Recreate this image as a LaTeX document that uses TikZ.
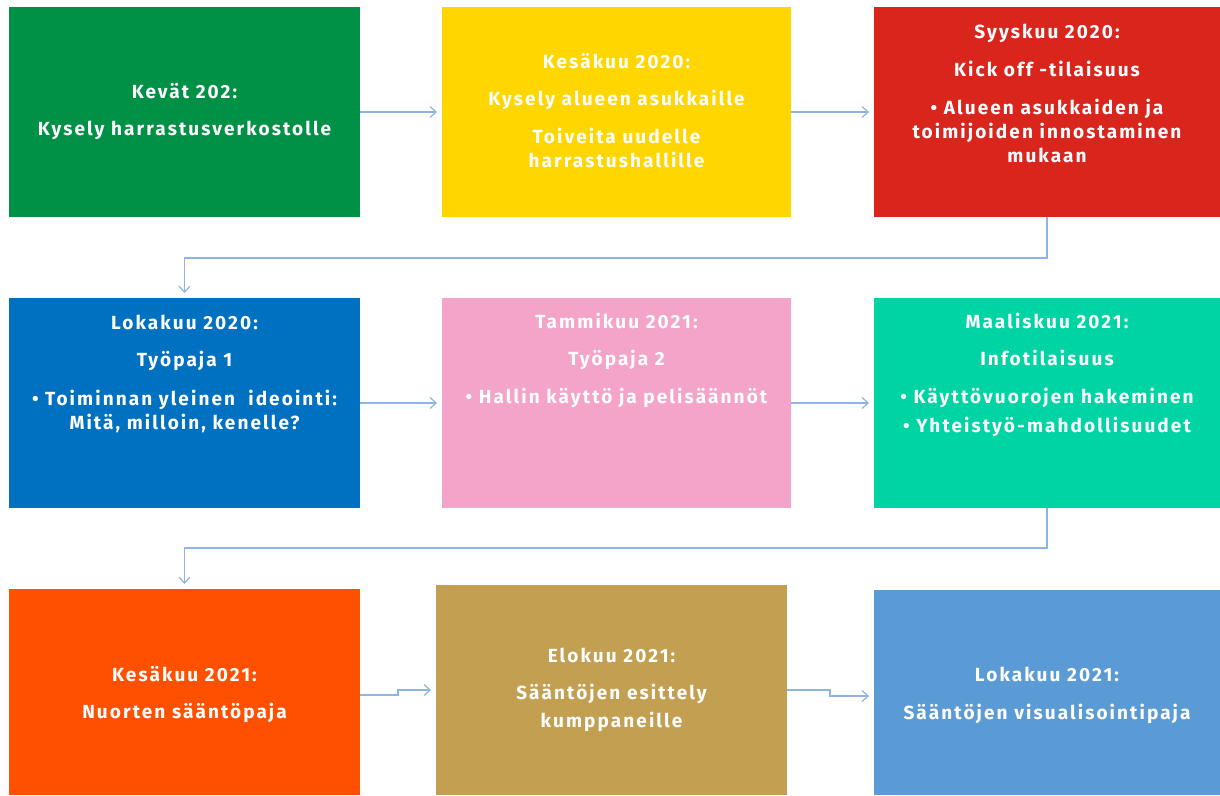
\documentclass[tikz,border=0pt]{standalone}
\usepackage{fontspec}
\setmainfont{Fira Sans}[UprightFont=* Bold,LetterSpace=11]
\usetikzlibrary{arrows.meta}
\definecolor{cgreen}{RGB}{0,144,70}
\definecolor{cyellow}{RGB}{255,214,0}
\definecolor{cred}{RGB}{218,37,28}
\definecolor{cblue}{RGB}{0,112,192}
\definecolor{cpink}{RGB}{244,164,200}
\definecolor{cteal}{RGB}{0,212,164}
\definecolor{corange}{RGB}{255,80,0}
\definecolor{cgold}{RGB}{194,159,81}
\definecolor{clblue}{RGB}{91,155,213}
\definecolor{cconn}{RGB}{141,180,226}
\begin{document}
\begin{tikzpicture}[x=1pt,y=-1pt,
  boxnode/.style={draw=none,inner sep=0pt,outer sep=0pt,anchor=north west},
  txt/.style={text=white,align=center,inner sep=0pt,font=\fontsize{19}{24}\selectfont},
  conn/.style={draw=cconn,line width=1.2pt,-{Straight Barb[length=6pt,width=11pt,line width=1.2pt]},shorten >=5pt}]
\useasboundingbox (0,0) rectangle (1220,795);
\fill[white] (0,0) rectangle (1220,795);
% row 1
\node[boxnode,fill=cgreen,minimum width=351pt,minimum height=210pt] (b1) at (9,7) {};
\node[boxnode,fill=cyellow,minimum width=349pt,minimum height=210pt] (b2) at (442,7) {};
\node[boxnode,fill=cred,minimum width=346pt,minimum height=210pt] (b3) at (874,7) {};
% row 2
\node[boxnode,fill=cblue,minimum width=351pt,minimum height=210pt] (b4) at (9,298) {};
\node[boxnode,fill=cpink,minimum width=349pt,minimum height=210pt] (b5) at (442,298) {};
\node[boxnode,fill=cteal,minimum width=346pt,minimum height=210pt] (b6) at (874,298) {};
% row 3
\node[boxnode,fill=corange,minimum width=351pt,minimum height=206pt] (b7) at (9,589) {};
\node[boxnode,fill=cgold,minimum width=351pt,minimum height=210pt] (b8) at (436,585) {};
\node[boxnode,fill=clblue,minimum width=346pt,minimum height=205pt] (b9) at (874,590) {};
% texts
\node[txt] (t1) at ([yshift=0pt]b1.center) {Kevät 202:\\[13pt]Kysely harrastusverkostolle};
\node[txt] (t2) at ([yshift=1pt]b2.center) {Kesäkuu 2020:\\[13pt]Kysely alueen asukkaille\\[14pt]Toiveita uudelle\\harrastushallille};
\node[txt] (t3) at ([yshift=18.5pt]b3.center) {Syyskuu 2020:\\[14pt]Kick off -tilaisuus\\[14pt]• Alueen asukkaiden ja\\toimijoiden innostaminen\\mukaan};
\node[txt] (t4) at ([yshift=29pt]b4.center) {Lokakuu 2020:\\[13pt]Työpaja 1\\[15pt]• Toiminnan yleinen~ ideointi:\\Mitä, milloin, kenelle?};
\node[txt] (t5) at ([yshift=42.5pt]b5.center) {Tammikuu 2021:\\[13pt]Työpaja 2\\[14pt]• Hallin käyttö ja pelisäännöt};
\node[txt] (t6) at ([yshift=28pt]b6.center) {Maaliskuu 2021:\\[13pt]Infotilaisuus\\[14pt]• Käyttövuorojen hakeminen\\[5pt]• Yhteistyö-mahdollisuudet};
\node[txt] (t7) at ([yshift=-2.5pt]b7.center) {Kesäkuu 2021:\\[13pt]Nuorten sääntöpaja};
\node[txt] (t8) at ([yshift=0pt]b8.center) {Elokuu 2021:\\[13pt]Sääntöjen esittely\\[4pt]kumppaneille};
\node[txt] (t9) at ([yshift=-2.5pt]b9.center) {Lokakuu 2021:\\[14pt]Sääntöjen visualisointipaja};
% connectors
\draw[conn] (b1.east) -- (b2.west);
\draw[conn] (b2.east) -- (b3.west);
\coordinate (m1) at (1047,258);
\draw[conn] (b3.south) -- (m1) -| (b4.north);
\draw[conn] (b4.east) -- (b5.west);
\draw[conn] (b5.east) -- (b6.west);
\coordinate (m2) at (1047,548);
\draw[conn] (b6.south) -- (m2) -| (b7.north);
\draw[conn] ([yshift=-3pt]b7.east) -- ++(38,0) |- (b8.west);
\draw[conn] (b8.east) -- ++(43,0) |- ([yshift=-3.5pt]b9.west);
\end{tikzpicture}
\end{document}
